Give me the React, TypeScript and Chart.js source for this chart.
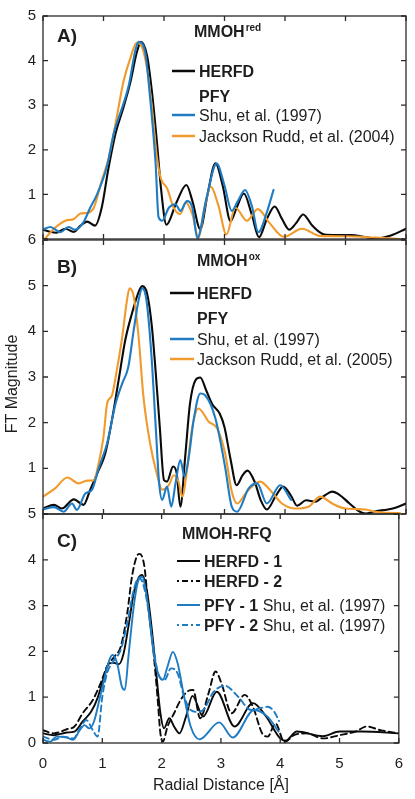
import React, { useEffect, useRef } from "react";
import { Chart, registerables } from "chart.js";

Chart.register(...registerables);

// ---------------- data ----------------
const xTickValues = [0, 1, 2, 3, 4, 5, 6];

// Panel A  (MMOH red)
const aHerfdX = [0, 0.1, 0.22, 0.37, 0.51, 0.62, 0.73, 0.86, 0.97, 1.08, 1.2, 1.33, 1.44, 1.55, 1.62, 1.72, 1.8, 1.88, 1.95, 2.04, 2.2, 2.37, 2.47, 2.6, 2.72, 2.85, 2.97, 3.1, 3.2, 3.32, 3.45, 3.57, 3.7, 3.83, 3.95, 4.07, 4.18, 4.3, 4.45, 4.65, 4.85, 5.1, 5.3, 5.5, 5.75, 6.0];
const aHerfdY = [0.21, 0.17, 0.14, 0.23, 0.16, 0.3, 0.39, 0.3, 0.7, 1.57, 2.37, 2.95, 3.49, 4.18, 4.42, 4.11, 3.31, 2.22, 1.14, 0.32, 0.8, 1.21, 0.85, 0.22, 1.0, 1.7, 1.2, 0.4, 0.7, 1.02, 0.55, 0.04, 0.45, 0.73, 0.45, 0.21, 0.35, 0.55, 0.3, 0.1, 0.09, 0.09, 0.05, 0.01, 0.08, 0.23];
const aShuX = [0, 0.12, 0.29, 0.42, 0.53, 0.67, 0.78, 0.89, 1.06, 1.17, 1.31, 1.42, 1.53, 1.58, 1.69, 1.77, 1.86, 1.91, 1.97, 2.08, 2.19, 2.27, 2.38, 2.47, 2.55, 2.7, 2.87, 3.0, 3.12, 3.22, 3.34, 3.45, 3.56, 3.7, 3.81];
const aShuY = [0.21, 0.27, 0.15, 0.27, 0.21, 0.38, 0.7, 0.99, 1.64, 2.37, 2.95, 3.46, 4.25, 4.42, 4.18, 3.17, 1.72, 0.49, 0.41, 0.7, 0.78, 0.63, 0.85, 0.7, 0.02, 0.9, 1.69, 1.2, 0.63, 0.85, 1.1, 0.75, 0.15, 0.6, 1.1];
const aJacksonX = [0.03, 0.18, 0.37, 0.51, 0.62, 0.75, 0.84, 0.98, 1.08, 1.2, 1.33, 1.44, 1.55, 1.64, 1.72, 1.8, 1.88, 1.95, 2.05, 2.16, 2.27, 2.36, 2.47, 2.57, 2.67, 2.77, 2.9, 3.03, 3.18, 3.37, 3.55, 3.75, 3.98, 4.28, 4.58, 5.0, 5.5, 5.9];
const aJacksonY = [0.0, 0.23, 0.41, 0.45, 0.57, 0.59, 0.7, 1.35, 1.79, 2.59, 3.53, 4.04, 4.4, 4.29, 3.82, 2.95, 1.86, 1.35, 1.14, 0.7, 0.56, 0.82, 0.55, 0.02, 0.7, 1.17, 0.75, 0.1, 0.7, 0.41, 0.67, 0.35, 0.05, 0.23, 0.07, 0.06, 0.03, 0.0];

// Panel B  (MMOH ox)
const bHerfdX = [0, 0.18, 0.31, 0.51, 0.67, 0.78, 0.92, 1.03, 1.14, 1.25, 1.36, 1.47, 1.58, 1.64, 1.72, 1.8, 1.86, 1.93, 2.0, 2.05, 2.15, 2.21, 2.27, 2.35, 2.43, 2.52, 2.6, 2.7, 2.8, 2.92, 3.0, 3.1, 3.2, 3.3, 3.38, 3.5, 3.6, 3.7, 3.85, 3.97, 4.1, 4.2, 4.35, 4.5, 4.65, 4.78, 4.9, 5.05, 5.2, 5.33, 5.5, 5.7, 5.85, 6.0];
const bHerfdY = [0.12, 0.2, 0.12, 0.32, 0.2, 0.53, 0.96, 1.33, 2.06, 2.93, 3.81, 4.39, 4.86, 4.99, 4.83, 4.1, 3.15, 1.91, 0.74, 0.71, 1.04, 0.89, 0.16, 1.25, 2.42, 2.93, 2.99, 2.7, 2.4, 2.2, 1.9, 1.2, 0.63, 0.85, 0.95, 0.7, 0.3, 0.1, 0.4, 0.6, 0.4, 0.18, 0.3, 0.27, 0.4, 0.49, 0.42, 0.25, 0.08, 0.01, 0.06, 0.1, 0.15, 0.23];
const bShuX = [0, 0.18, 0.34, 0.48, 0.56, 0.7, 0.81, 0.92, 1.06, 1.2, 1.31, 1.41, 1.5, 1.58, 1.64, 1.71, 1.79, 1.86, 1.92, 1.97, 2.05, 2.12, 2.19, 2.27, 2.34, 2.41, 2.49, 2.6, 2.68, 2.85, 3.01, 3.12, 3.21, 3.4, 3.54, 3.7, 3.92, 4.1];
const bShuY = [0.1, 0.15, 0.05, 0.23, 0.09, 0.45, 0.53, 1.0, 1.55, 2.42, 2.86, 3.22, 4.03, 4.68, 4.94, 4.68, 3.52, 1.98, 0.67, 0.31, 0.6, 0.16, 0.67, 1.18, 0.82, 1.25, 2.06, 2.64, 2.6, 2.09, 1.03, 0.16, 0.05, 0.56, 0.67, 0.23, 0.63, 0.31];
const bJacksonX = [0, 0.2, 0.4, 0.59, 0.73, 0.84, 0.92, 1.0, 1.06, 1.14, 1.22, 1.31, 1.38, 1.43, 1.5, 1.58, 1.66, 1.77, 1.88, 1.97, 2.08, 2.16, 2.24, 2.3, 2.38, 2.46, 2.57, 2.74, 2.88, 3.01, 3.12, 3.21, 3.37, 3.59, 3.73, 3.95, 4.17, 4.39, 4.58, 4.78, 5.0, 5.33, 5.49, 5.83, 5.9];
const bJacksonY = [0.38, 0.56, 0.8, 0.67, 0.73, 0.74, 1.11, 1.69, 2.42, 2.6, 3.15, 3.88, 4.61, 4.94, 4.76, 3.88, 2.57, 1.55, 0.89, 0.53, 0.63, 0.85, 0.71, 0.38, 0.96, 1.84, 2.31, 2.02, 1.87, 1.33, 0.49, 0.23, 0.49, 0.71, 0.56, 0.23, 0.12, 0.16, 0.38, 0.23, 0.12, 0.1, 0.05, 0.02, 0.02];

// Panel C  (MMOH-RFQ)
const cHerfd1X = [0, 0.18, 0.4, 0.53, 0.67, 0.81, 0.92, 1.03, 1.11, 1.2, 1.28, 1.36, 1.44, 1.53, 1.61, 1.67, 1.75, 1.83, 1.91, 1.98, 2.04, 2.13, 2.21, 2.3, 2.41, 2.52, 2.7, 2.93, 3.23, 3.54, 3.75, 4.0, 4.09, 4.28, 4.72, 5.0, 5.38, 6.0];
const cHerfd1Y = [0.21, 0.17, 0.23, 0.25, 0.47, 0.68, 0.98, 1.45, 1.74, 1.75, 1.72, 1.96, 2.54, 3.27, 3.6, 3.67, 3.34, 2.54, 1.52, 0.65, 0.32, 0.54, 0.36, 0.21, 0.57, 1.03, 0.58, 1.12, 0.36, 0.87, 0.6, 0.1, 0.05, 0.25, 0.15, 0.25, 0.25, 0.21];
const cHerfd2X = [0, 0.18, 0.4, 0.53, 0.67, 0.84, 0.97, 1.08, 1.2, 1.31, 1.42, 1.5, 1.58, 1.63, 1.71, 1.77, 1.86, 1.93, 1.98, 2.02, 2.1, 2.21, 2.32, 2.43, 2.53, 2.65, 2.79, 2.91, 3.01, 3.18, 3.4, 3.54, 3.7, 3.79, 3.92, 4.07, 4.23, 4.45, 4.72, 5.0, 5.27, 5.46, 5.69, 6.0];
const cHerfd2Y = [0.28, 0.21, 0.3, 0.36, 0.65, 0.94, 1.3, 1.67, 1.88, 2.1, 2.83, 3.63, 4.07, 4.13, 3.85, 3.05, 2.03, 1.01, 0.21, 0.03, 0.36, 0.65, 0.94, 1.12, 1.16, 0.54, 1.08, 1.56, 1.3, 0.65, 1.05, 0.79, 0.2, 0.14, 0.43, 0.02, 0.17, 0.21, 0.1, 0.17, 0.25, 0.36, 0.28, 0.21];
const cPfy1X = [0, 0.12, 0.23, 0.4, 0.51, 0.62, 0.7, 0.78, 0.86, 0.95, 1.03, 1.11, 1.17, 1.25, 1.33, 1.38, 1.44, 1.53, 1.61, 1.67, 1.75, 1.86, 1.94, 2.02, 2.1, 2.19, 2.27, 2.38, 2.49, 2.64, 2.97, 3.2, 3.56, 3.79, 3.97];
const cPfy1Y = [0.07, 0.03, 0.14, 0.12, 0.07, 0.28, 0.39, 0.32, 0.47, 0.94, 1.38, 1.78, 1.92, 1.74, 1.23, 1.16, 1.88, 2.98, 3.56, 3.63, 3.19, 2.03, 1.52, 1.38, 1.67, 1.99, 1.74, 1.01, 0.36, 0.08, 0.45, 0.12, 0.72, 0.57, 0.25];
const cPfy2X = [0, 0.18, 0.34, 0.51, 0.64, 0.73, 0.84, 0.92, 1.0, 1.08, 1.2, 1.31, 1.42, 1.53, 1.61, 1.66, 1.75, 1.86, 1.94, 2.05, 2.16, 2.27, 2.38, 2.49, 2.6, 2.7, 2.88, 3.07, 3.29, 3.51, 3.79, 3.9, 3.98];
const cPfy2Y = [0.14, 0.07, 0.14, 0.1, 0.36, 0.5, 0.28, 0.14, 1.01, 1.52, 1.81, 2.03, 2.61, 3.34, 3.6, 3.56, 3.12, 2.1, 1.52, 1.38, 1.63, 1.52, 1.01, 0.72, 0.68, 0.72, 1.12, 1.25, 1.01, 0.72, 0.79, 0.68, 0.48];

// ---------------- styles ----------------
const FONT = "'Liberation Sans', Arial, Helvetica, sans-serif";
const INK = "#1e1e1e";
const FRAME = "#2a2a2a";
const BLACK = "#0a0a0a";
const BLUE = "#1f7cc3";
const ORANGE = "#f09b2c";
const W = 415;
const H = 799;
const AREA_LEFT = 43;
const AREA_RIGHT = 406;

interface SeriesDef { xs: number[]; ys: number[]; color: string; width: number; dash?: number[] }
interface Part { text: string; bold?: boolean }
interface Row { y: number; line?: { color: string; width: number; dash?: number[] }; parts: Part[] }
interface PanelDef {
  top: number; bottom: number; yMax: number; hideZeroLabel: boolean; showX: boolean;
  series: SeriesDef[];
  letter: { text: string; x: number; base: number };
  title: { text: string; sup?: string; x: number; base: number };
  legend: { x0: number; x1: number; tx: number; rows: Row[] };
  yTitle?: boolean;
}

const panels: PanelDef[] = [
  {
    top: 10, bottom: 239, yMax: 5, hideZeroLabel: true, showX: false,
    series: [
      { xs: aShuX, ys: aShuY, color: BLUE, width: 2.1 },
      { xs: aJacksonX, ys: aJacksonY, color: ORANGE, width: 2.1 },
      { xs: aHerfdX, ys: aHerfdY, color: BLACK, width: 2.1 },
    ],
    letter: { text: "A)", x: 57, base: 42 },
    title: { text: "MMOH", sup: "red", x: 194, base: 37 },
    legend: {
      x0: 172, x1: 195, tx: 199,
      rows: [
        { y: 71, line: { color: BLACK, width: 2.5 }, parts: [{ text: "HERFD", bold: true }] },
        { y: 96, parts: [{ text: "PFY", bold: true }] },
        { y: 115, line: { color: BLUE, width: 2.5 }, parts: [{ text: "Shu, et al. (1997)" }] },
        { y: 136, line: { color: ORANGE, width: 2.5 }, parts: [{ text: "Jackson Rudd, et al. (2004)" }] },
      ],
    },
  },
  {
    top: 240, bottom: 514, yMax: 6, hideZeroLabel: true, showX: false,
    series: [
      { xs: bShuX, ys: bShuY, color: BLUE, width: 2.1 },
      { xs: bJacksonX, ys: bJacksonY, color: ORANGE, width: 2.1 },
      { xs: bHerfdX, ys: bHerfdY, color: BLACK, width: 2.1 },
    ],
    letter: { text: "B)", x: 57, base: 273 },
    title: { text: "MMOH", sup: "ox", x: 197, base: 266 },
    legend: {
      x0: 170, x1: 194, tx: 197,
      rows: [
        { y: 293, line: { color: BLACK, width: 2.5 }, parts: [{ text: "HERFD", bold: true }] },
        { y: 318, parts: [{ text: "PFY", bold: true }] },
        { y: 339, line: { color: BLUE, width: 2.5 }, parts: [{ text: "Shu, et al. (1997)" }] },
        { y: 359, line: { color: ORANGE, width: 2.5 }, parts: [{ text: "Jackson Rudd, et al. (2005)" }] },
      ],
    },
    yTitle: true,
  },
  {
    top: 514, bottom: 743, yMax: 5, hideZeroLabel: false, showX: true,
    series: [
      { xs: cPfy2X, ys: cPfy2Y, color: BLUE, width: 1.9, dash: [6, 4] },
      { xs: cPfy1X, ys: cPfy1Y, color: BLUE, width: 1.9 },
      { xs: cHerfd2X, ys: cHerfd2Y, color: BLACK, width: 1.9, dash: [6, 4] },
      { xs: cHerfd1X, ys: cHerfd1Y, color: BLACK, width: 1.9 },
    ],
    letter: { text: "C)", x: 57, base: 547 },
    title: { text: "MMOH-RFQ", x: 182, base: 539 },
    legend: {
      x0: 177, x1: 200, tx: 204,
      rows: [
        { y: 561, line: { color: BLACK, width: 2 }, parts: [{ text: "HERFD - 1", bold: true }] },
        { y: 581, line: { color: BLACK, width: 2, dash: [2, 3, 6, 3] }, parts: [{ text: "HERFD - 2", bold: true }] },
        { y: 605, line: { color: BLUE, width: 2 }, parts: [{ text: "PFY - 1", bold: true }, { text: " Shu, et al. (1997)" }] },
        { y: 625, line: { color: BLUE, width: 2, dash: [2, 3, 6, 3] }, parts: [{ text: "PFY - 2", bold: true }, { text: " Shu, et al. (1997)" }] },
      ],
    },
  },
];

function makeDecorPlugin(p: PanelDef) {
  return {
    id: "decor",
    afterDraw(chart: any) {
      const ctx: CanvasRenderingContext2D = chart.ctx;
      const a = chart.chartArea;
      const xs = chart.scales.x;
      const ys = chart.scales.y;
      ctx.save();
      // frame
      ctx.strokeStyle = FRAME;
      ctx.lineWidth = 1.3;
      ctx.setLineDash([]);
      ctx.strokeRect(a.left, a.top, a.right - a.left, a.bottom - a.top);
      // inward ticks
      ctx.beginPath();
      for (let v = 0; v <= p.yMax; v++) {
        const py = ys.getPixelForValue(v);
        ctx.moveTo(a.left, py); ctx.lineTo(a.left + 5, py);
        ctx.moveTo(a.right, py); ctx.lineTo(a.right - 5, py);
      }
      for (const v of xTickValues) {
        const px = xs.getPixelForValue(v);
        ctx.moveTo(px, a.top); ctx.lineTo(px, a.top + 5);
        ctx.moveTo(px, a.bottom); ctx.lineTo(px, a.bottom - 5);
      }
      ctx.stroke();

      ctx.fillStyle = INK;
      ctx.textBaseline = "alphabetic";
      ctx.textAlign = "left";
      // panel letter
      ctx.font = `bold 19px ${FONT}`;
      ctx.fillText(p.letter.text, p.letter.x, p.letter.base);
      // title
      ctx.font = `bold 16px ${FONT}`;
      ctx.fillText(p.title.text, p.title.x, p.title.base);
      if (p.title.sup) {
        const w = ctx.measureText(p.title.text).width;
        ctx.font = `bold 10px ${FONT}`;
        ctx.fillText(p.title.sup, p.title.x + w + 1, p.title.base - 6);
      }
      // legend
      const lg = p.legend;
      for (const r of lg.rows) {
        if (r.line) {
          ctx.save();
          ctx.strokeStyle = r.line.color;
          ctx.lineWidth = r.line.width;
          ctx.setLineDash(r.line.dash || []);
          ctx.beginPath();
          ctx.moveTo(lg.x0, r.y);
          ctx.lineTo(lg.x1, r.y);
          ctx.stroke();
          ctx.restore();
        }
        let tx = lg.tx;
        for (const part of r.parts) {
          ctx.font = `${part.bold ? "bold " : ""}16px ${FONT}`;
          ctx.fillStyle = INK;
          ctx.fillText(part.text, tx, r.y + 5.8);
          tx += ctx.measureText(part.text).width;
        }
      }
      // y axis title
      if (p.yTitle) {
        ctx.save();
        ctx.translate(13, 384);
        ctx.rotate(-Math.PI / 2);
        ctx.textAlign = "center";
        ctx.textBaseline = "middle";
        ctx.font = `16px ${FONT}`;
        ctx.fillStyle = INK;
        ctx.fillText("FT Magnitude", 0, 0);
        ctx.restore();
      }
      ctx.restore();
    },
  };
}

function buildConfig(p: PanelDef): any {
  return {
    type: "line",
    data: {
      datasets: p.series.map((s) => ({
        data: s.xs.map((x, i) => ({ x, y: s.ys[i] })),
        borderColor: s.color,
        borderWidth: s.width,
        borderDash: s.dash || [],
        pointRadius: 0,
        fill: false,
        cubicInterpolationMode: "monotone",
        borderCapStyle: "round",
        borderJoinStyle: "round",
      })),
    },
    options: {
      animation: false,
      responsive: false,
      maintainAspectRatio: false,
      events: [],
      layout: {
        padding: {
          left: 0,
          right: W - AREA_RIGHT,
          top: p.top,
          bottom: p.showX ? 0 : H - p.bottom,
        },
      },
      plugins: { legend: { display: false }, tooltip: { enabled: false }, title: { display: false } },
      scales: {
        x: {
          type: "linear",
          min: 0,
          max: 6,
          display: p.showX,
          grid: { display: false, drawTicks: false },
          border: { display: false },
          afterBuildTicks: (s: any) => { s.ticks = xTickValues.map((v) => ({ value: v })); },
          ticks: { color: INK, font: { family: FONT, size: 15 }, padding: 12, maxRotation: 0 },
          title: {
            display: p.showX,
            text: "Radial Distance [Å]",
            color: INK,
            font: { family: FONT, size: 16 },
            padding: { top: 0, bottom: 4 },
          },
          afterFit: (s: any) => { s.height = p.showX ? H - p.bottom : 0; },
        },
        y: {
          min: 0,
          max: p.yMax,
          grid: { display: false, drawTicks: false },
          border: { display: false },
          ticks: {
            stepSize: 1,
            color: INK,
            font: { family: FONT, size: 15 },
            padding: 7,
            callback: (v: any) => (v === 0 && p.hideZeroLabel ? "" : String(v)),
          },
          afterFit: (s: any) => { s.width = AREA_LEFT; },
        },
      },
    },
    plugins: [makeDecorPlugin(p)],
  };
}

function PanelCanvas({ p }: { p: PanelDef }) {
  const ref = useRef<HTMLCanvasElement | null>(null);
  useEffect(() => {
    if (!ref.current) return;
    const chart = new Chart(ref.current, buildConfig(p));
    return () => chart.destroy();
  }, [p]);
  return (
    <canvas
      ref={ref}
      width={W}
      height={H}
      style={{ position: "absolute", left: 0, top: 0, width: W, height: H }}
    />
  );
}

export default function App() {
  return (
    <div style={{ position: "absolute", left: 0, top: 0, width: W, height: H, background: "#ffffff", overflow: "hidden" }}>
      {panels.map((p, i) => (
        <PanelCanvas key={i} p={p} />
      ))}
    </div>
  );
}
